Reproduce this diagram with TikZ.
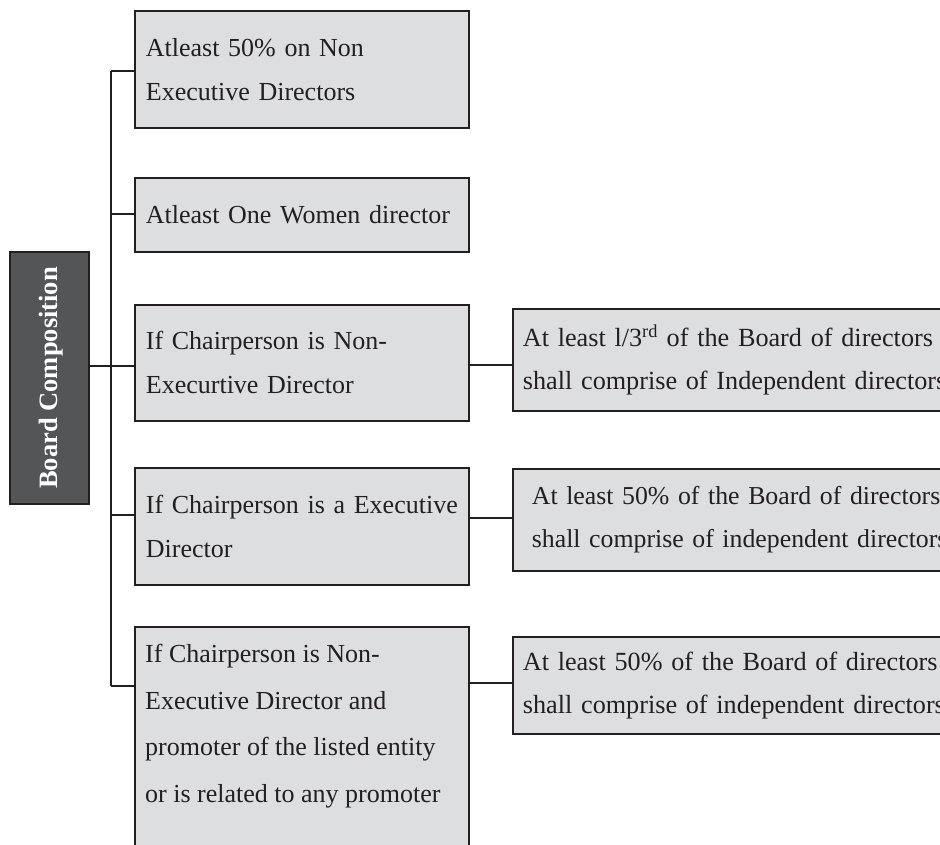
\documentclass[tikz,border=0pt]{standalone}
\usepackage{fontspec}
\setmainfont{Liberation Serif}
\definecolor{boxfill}{RGB}{221,222,224}
\definecolor{darkfill}{RGB}{84,85,87}
\definecolor{linec}{RGB}{35,31,32}
% two-line block whose first line is stretched to the width of the second
\newlength\pairwd
\newcommand\pairlines[2]{\settowidth{\pairwd}{#2}\makebox[\pairwd][s]{#1}\\#2}
\begin{document}
\hyphenpenalty=10000
\begin{tikzpicture}[x=1pt,y=-1pt,
  txtfont/.style={font=\fontsize{26}{44}\selectfont},
  lbox/.style={draw=linec, line width=1.8pt, fill=boxfill, rectangle, anchor=north west,
    inner xsep=11pt, inner ysep=0pt, text width=312pt, align=left, txtfont, text=linec},
  rbox/.style={draw=linec, line width=1.8pt, fill=boxfill, rectangle, anchor=north west,
    inner xsep=10pt, inner ysep=0pt, text width=460pt, align=left, text=linec,
    font=\fontsize{26.2}{43}\selectfont},
  headbox/.style={draw=linec, line width=1.8pt, fill=darkfill, rectangle, anchor=north west,
    inner sep=0pt, minimum width=79pt, minimum height=252pt},
  headtext/.style={rotate=90, text=white, font=\fontsize{26.5}{30}\selectfont\bfseries},
  conn/.style={draw=linec, line width=1.8pt}
]
\useasboundingbox (0,0) rectangle (940,845);
\clip (0,0) rectangle (940,845);

% root
\node[headbox] (b0) at (9,251) {};
\node[headtext] (b0t) at ([xshift=2pt]b0.center) {Board Composition};

% left column
\node[lbox, minimum height=117pt] (b1) at (134,10) {Atleast 50\% on Non\\Executive Directors};
\node[lbox, minimum height=74pt] (b2) at (134,177) {Atleast One Women director};
\node[lbox, minimum height=116pt] (b3) at (134,304) {If Chairperson is Non-\\Execurtive Director};
\node[lbox, minimum height=117pt] (b4) at (134,467) {If Chairperson is a Executive\\Director};
\node[lbox, minimum height=260pt] (b5) at (134,626) {};
\node[anchor=north west, inner sep=0pt, align=left, font=\fontsize{26}{46.5}\selectfont, text=linec] (t5) at (145,644)
  {If Chairperson is Non-\\Executive Director and\\promoter of the listed entity\\or is related to any promoter};

% right column
\node[rbox, minimum height=102pt] (c3) at (512,308)
  {\pairlines{At least l/3\textsuperscript{rd} of the Board of directors}{shall comprise of Independent directors}};
\node[rbox, minimum height=102pt, inner xsep=19pt, font=\fontsize{25.8}{43}\selectfont] (c4) at (512,468)
  {\pairlines{At least 50\% of the Board of directors}{shall comprise of independent directors}};
\node[rbox, minimum height=97pt] (c5) at (512,636)
  {\pairlines{At least 50\% of the Board of directors}{shall comprise of independent directors}};

% trunk junctions
\coordinate (j1) at (111,71);
\coordinate (j2) at (111,214);
\coordinate (j3) at (111,366);
\coordinate (j4) at (111,515);
\coordinate (j5) at (111,686);
\coordinate (r3) at (490,365);
\coordinate (r4) at (490,518);
\coordinate (r5) at (490,683);

\draw[conn] (b0.east |- j3) -- (j3);
\draw[conn] (j1) -- (j5);
\draw[conn] (j1) -- (j1 -| b1.west);
\draw[conn] (j2) -- (j2 -| b2.west);
\draw[conn] (j3) -- (j3 -| b3.west);
\draw[conn] (j4) -- (j4 -| b4.west);
\draw[conn] (j5) -- (j5 -| b5.west);

\draw[conn] (b3.east |- r3) -- (c3.west |- r3);
\draw[conn] (b4.east |- r4) -- (c4.west |- r4);
\draw[conn] (b5.east |- r5) -- (c5.west |- r5);
\end{tikzpicture}
\end{document}
